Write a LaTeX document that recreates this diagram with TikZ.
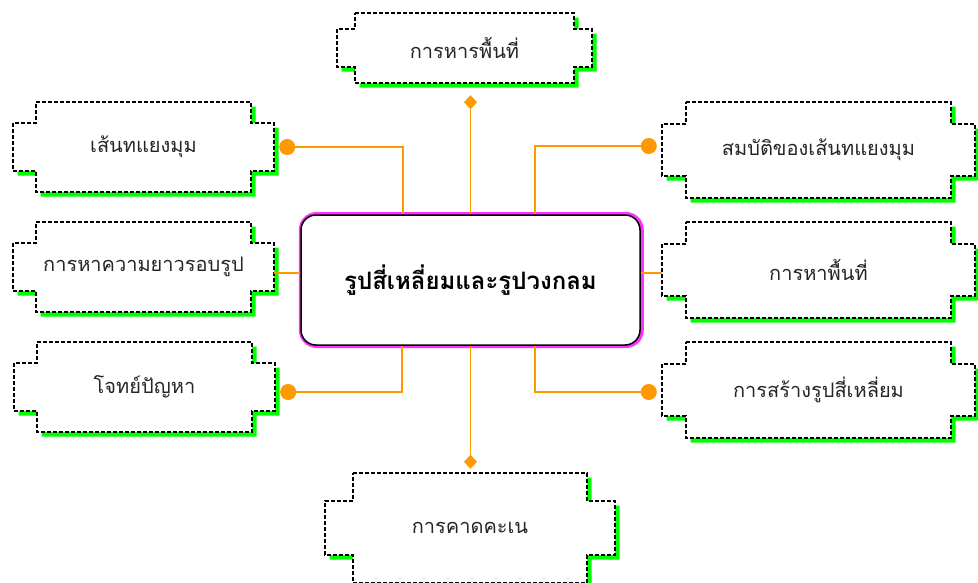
\documentclass[tikz,border=0pt]{standalone}
\usepackage{fontspec}
\newfontfamily\thaifont[Script=Thai]{Loma}
\usetikzlibrary{arrows.meta}
\definecolor{linkorange}{HTML}{FF9900}
\definecolor{shadowgreen}{HTML}{00FF00}
\definecolor{glowpink}{HTML}{FF33FF}
\tikzset{
    notch outline/.style args={#1/#2/#3/#4}{
        insert path={(-#1/2+#3,#2/2) -- (#1/2-#3,#2/2) -- (#1/2-#3,#2/2-#4) -- (#1/2,#2/2-#4)
            -- (#1/2,-#2/2+#4) -- (#1/2-#3,-#2/2+#4) -- (#1/2-#3,-#2/2) -- (-#1/2+#3,-#2/2)
            -- (-#1/2+#3,-#2/2+#4) -- (-#1/2,-#2/2+#4) -- (-#1/2,#2/2-#4) -- (-#1/2+#3,#2/2-#4) -- cycle}
    },
    pics/notchbox/.style={code={
        \fill[shadowgreen, shift={(4.5,-4.5)}] [notch outline={#1}];
        \filldraw[fill=white, draw=black, line width=1.4pt, dash pattern=on 4pt off 2pt] [notch outline={#1}];
    }},
    topic/.style args={#1/#2}{minimum width=#1pt, minimum height=#2pt, inner sep=0pt,
        text=black!85, font=\thaifont\fontsize{20}{24}\selectfont},
    link/.style={draw=linkorange, line width=1.3pt},
    circle tip/.style={-{Circle[length=16pt]}, shorten >=5pt},
    diamond tip/.style={-{Diamond[length=14pt, width=13pt]}}
}

\begin{document}
\begin{tikzpicture}[x=1pt, y=1pt]
    \useasboundingbox (0,0) rectangle (978,-582);
    %topics
    \pic at (464.5,-48) {notchbox={255/70/18/16}};
    \node[topic={255/70}] (divide) at (464.5,-48) {การหารพื้นที่};
    \pic at (143.5,-147) {notchbox={261/90/23/21}};
    \node[topic={261/90}] (diag) at (143.5,-147) {เส้นทแยงมุม};
    \pic at (143.5,-267) {notchbox={261/90/23/21}};
    \node[topic={261/90}] (perim) at (143.5,-267) {การหาความยาวรอบรูป};
    \pic at (144.5,-387) {notchbox={261/90/23/21}};
    \node[topic={261/90}] (word) at (144.5,-387) {โจทย์ปัญหา};
    \pic at (818.5,-150) {notchbox={313/96/24/22}};
    \node[topic={313/96}] (prop) at (818.5,-150) {สมบัติของเส้นทแยงมุม};
    \pic at (818.5,-270) {notchbox={313/96/24/22}};
    \node[topic={313/96}] (area) at (818.5,-270) {การหาพื้นที่};
    \pic at (818.5,-390) {notchbox={313/96/24/22}};
    \node[topic={313/96}] (build) at (818.5,-390) {การสร้างรูปสี่เหลี่ยม};
    \pic at (470,-528) {notchbox={290/110/28/28}};
    \node[topic={290/110}] (guess) at (470,-528) {การคาดคะเน};
    %centre
    \node[draw=black, line width=1.5pt, fill=white, rounded corners=15pt,
        preaction={draw=glowpink, line width=6pt, transform canvas={xshift=0.8pt}},
        minimum width=339pt, minimum height=130pt, inner sep=0pt,
        font=\thaifont\bfseries\fontsize{24}{28}\selectfont] (main) at (470.5,-280) {รูปสี่เหลี่ยมและรูปวงกลม};
    %links
    \draw[link, circle tip] ([xshift=-67.5pt]main.north) |- (diag.east);
    \draw[link] ([yshift=7pt]main.west) coordinate (lmid) -- (perim.east |- lmid);
    \draw[link, circle tip] ([xshift=-68.5pt]main.south) |- ([yshift=-5pt]word.east);
    \draw[link, circle tip] ([xshift=64.5pt]main.north) |- ([yshift=4pt]prop.west);
    \draw[link] ([yshift=7pt]main.east) coordinate (rmid) -- (area.west |- rmid);
    \draw[link, circle tip] ([xshift=64.5pt]main.south) |- ([yshift=-2pt]build.west);
    \draw[link, diamond tip, shorten >=12pt] (main.north) -- (main.north |- divide.south);
    \draw[link, diamond tip, shorten >=4pt] (main.south) -- (main.south |- guess.north);
\end{tikzpicture}
\end{document}
